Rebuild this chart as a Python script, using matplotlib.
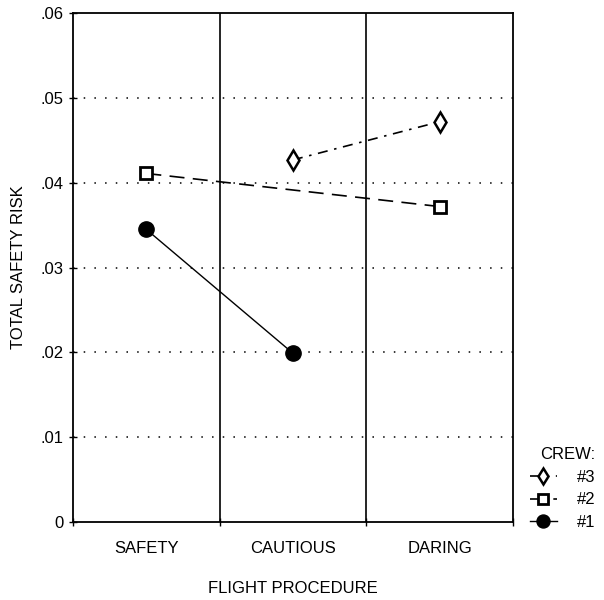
import numpy as np
import matplotlib
matplotlib.use("Agg")
import matplotlib.pyplot as plt

procedures = ['SAFETY', 'CAUTIOUS', 'DARING']
crew1 = [0.0345, 0.0199, None]
crew2 = [0.0411, None, 0.0372]
crew3 = [None, 0.0427, 0.0472]

plt.rcParams['font.family'] = ['Liberation Sans', 'DejaVu Sans']

fig = plt.figure(figsize=(6.04, 6.0), dpi=100)
ax = fig.add_axes([0.121, 0.13, 0.728, 0.848])

xpos = np.arange(len(procedures)) + 0.5

def pts(vals):
    xs = [x for x, v in zip(xpos, vals) if v is not None]
    ys = [v for v in vals if v is not None]
    return xs, ys

x1, y1 = pts(crew1)
x2, y2 = pts(crew2)
x3, y3 = pts(crew3)

l1, = ax.plot(x1, y1, color='black', lw=1.0, ls='-', marker='o', ms=11,
              mfc='black', mec='black', label='#1', zorder=5)
l2, = ax.plot(x2, y2, color='black', lw=1.2, ls=(0, (9, 5)), marker='s', ms=8,
              mfc='white', mec='black', mew=2, label='#2', zorder=5)
l3, = ax.plot(x3, y3, color='black', lw=1.2, ls=(0, (6, 4, 1.5, 4)), marker='d', ms=10,
              mfc='white', mec='black', mew=1.8, label='#3', zorder=5)

# dotted gridlines and category dividers
for yv in [0.01, 0.02, 0.03, 0.04, 0.05]:
    ax.axhline(yv, color='black', lw=1.1, ls=(0, (1, 6)), zorder=1)
for xv in [1, 2]:
    ax.axvline(xv, color='black', lw=1.2, zorder=2)

ax.set_xlim(0, 3)
ax.set_ylim(0, 0.06)
ax.set_yticks([0, 0.01, 0.02, 0.03, 0.04, 0.05, 0.06])
ax.set_yticklabels(['0', '.01', '.02', '.03', '.04', '.05', '.06'], fontsize=12)
ax.set_xticks([0, 1, 2, 3])
ax.set_xticklabels([])
ax.set_xticks(xpos, minor=True)
ax.set_xticklabels(procedures, minor=True, fontsize=12)
ax.tick_params(axis='x', which='minor', length=0, pad=14)
ax.tick_params(axis='both', which='major', direction='inout', length=6, width=1)
ax.tick_params(axis='y', pad=4)

for s in ax.spines.values():
    s.set_linewidth(1.3)

ax.set_ylabel('TOTAL SAFETY RISK', fontsize=12, labelpad=10)
ax.set_xlabel('FLIGHT PROCEDURE', fontsize=12, labelpad=18)

leg = ax.legend(handles=[l3, l2, l1], title='CREW:', loc='lower left',
                bbox_to_anchor=(1.005, -0.045), frameon=False, handlelength=1.6,
                fontsize=12, title_fontsize=12, labelspacing=0.45, handletextpad=1.2,
                markerscale=0.85, alignment='right')

fig.savefig('out.png', dpi=100)
